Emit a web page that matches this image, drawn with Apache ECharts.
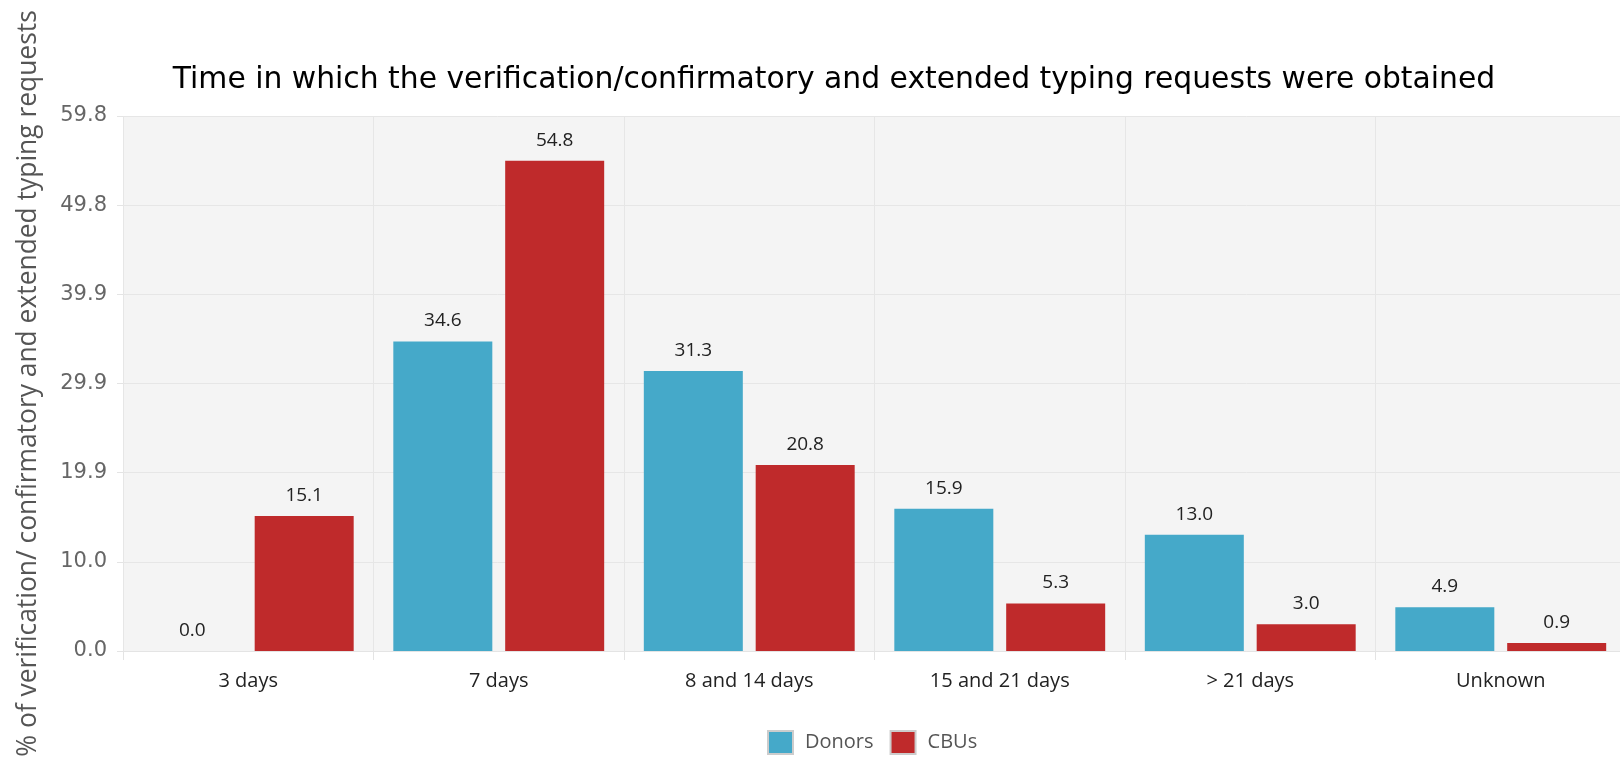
<!DOCTYPE html>
<html>
<head>
<meta charset="utf-8">
<script src="https://cdn.jsdelivr.net/npm/echarts@6/dist/echarts.min.js"></script>
<style>
html,body{margin:0;padding:0;background:#fff;}
#chart{width:1620px;height:757px;}
</style>
</head>
<body>
<div id="chart"></div>
<script>
var categories = ['3 days', '7 days', '8 and 14 days', '15 and 21 days', '> 21 days', 'Unknown'];
var donors = [0.0, 34.6, 31.3, 15.9, 13.0, 4.9];
var cbus = [15.1, 54.8, 20.8, 5.3, 3.0, 0.9];
var seriesNames = ['Donors', 'CBUs'];
var titleText = 'Time in which the verification/confirmatory and extended typing requests were obtained';
var yAxisTitle = '% of verification/ confirmatory and extended typing requests';
var yMax = 59.8;

var chart = echarts.init(document.getElementById('chart'));
var labelFont = '"Open Sans", sans-serif';
chart.setOption({
  animation: false,
  title: {
    text: titleText,
    left: 829, top: 60, textAlign: 'center',
    textStyle: {fontFamily: '"DejaVu Sans", sans-serif', fontSize: 29.8, fontWeight: 'normal', color: '#000'}
  },
  legend: {
    data: seriesNames,
    left: 762, top: 725,
    itemWidth: 25, itemHeight: 23, itemGap: 16,
    icon: 'rect',
    itemStyle: {borderColor: '#cccccc', borderWidth: 2},
    textStyle: {fontFamily: labelFont, fontSize: 20, color: '#555', padding: [0, 0, 0, 7]}
  },
  grid: {left: 123, right: -6, top: 116, bottom: 106, containLabel: false, outerBoundsMode: 'none',
    show: true, backgroundColor: '#f4f4f4', borderWidth: 0},
  xAxis: {
    type: 'category',
    data: categories,
    axisLine: {show: true, lineStyle: {color: '#e4e4e4', width: 1}},
    axisTick: {show: true, length: 9, lineStyle: {color: '#e4e4e4'}},
    splitLine: {show: true, lineStyle: {color: '#e6e6e6', width: 1}},
    axisLabel: {fontFamily: labelFont, fontSize: 20, color: '#222', margin: 20}
  },
  yAxis: {
    type: 'value',
    min: 0, max: yMax, interval: yMax / 6,
    name: yAxisTitle,
    nameLocation: 'middle',
    nameGap: 82,
    nameTextStyle: {fontFamily: '"Open Sans", sans-serif', fontSize: 26.4, color: '#555'},
    axisLine: {show: false},
    axisTick: {show: true, length: 6, lineStyle: {color: '#e4e4e4'}},
    splitLine: {show: true, lineStyle: {color: '#e6e6e6', width: 1}},
    axisLabel: {fontFamily: '"DejaVu Sans", sans-serif', fontSize: 21, color: '#666', margin: 16,
      formatter: function (v) { return v.toFixed(1); }}
  },
  series: [
    {
      name: seriesNames[0], type: 'bar', data: donors,
      barWidth: 99, barGap: '13%',
      itemStyle: {color: '#45a9c9'},
      label: {show: true, position: 'top', distance: 11, fontFamily: labelFont, fontSize: 19, color: '#222',
        formatter: function (p) { return p.value.toFixed(1); }}
    },
    {
      name: seriesNames[1], type: 'bar', data: cbus,
      barWidth: 99, barGap: '13%',
      itemStyle: {color: '#bf2a2b'},
      label: {show: true, position: 'top', distance: 11, fontFamily: labelFont, fontSize: 19, color: '#222',
        formatter: function (p) { return p.value.toFixed(1); }}
    }
  ]
});
</script>
</body>
</html>
